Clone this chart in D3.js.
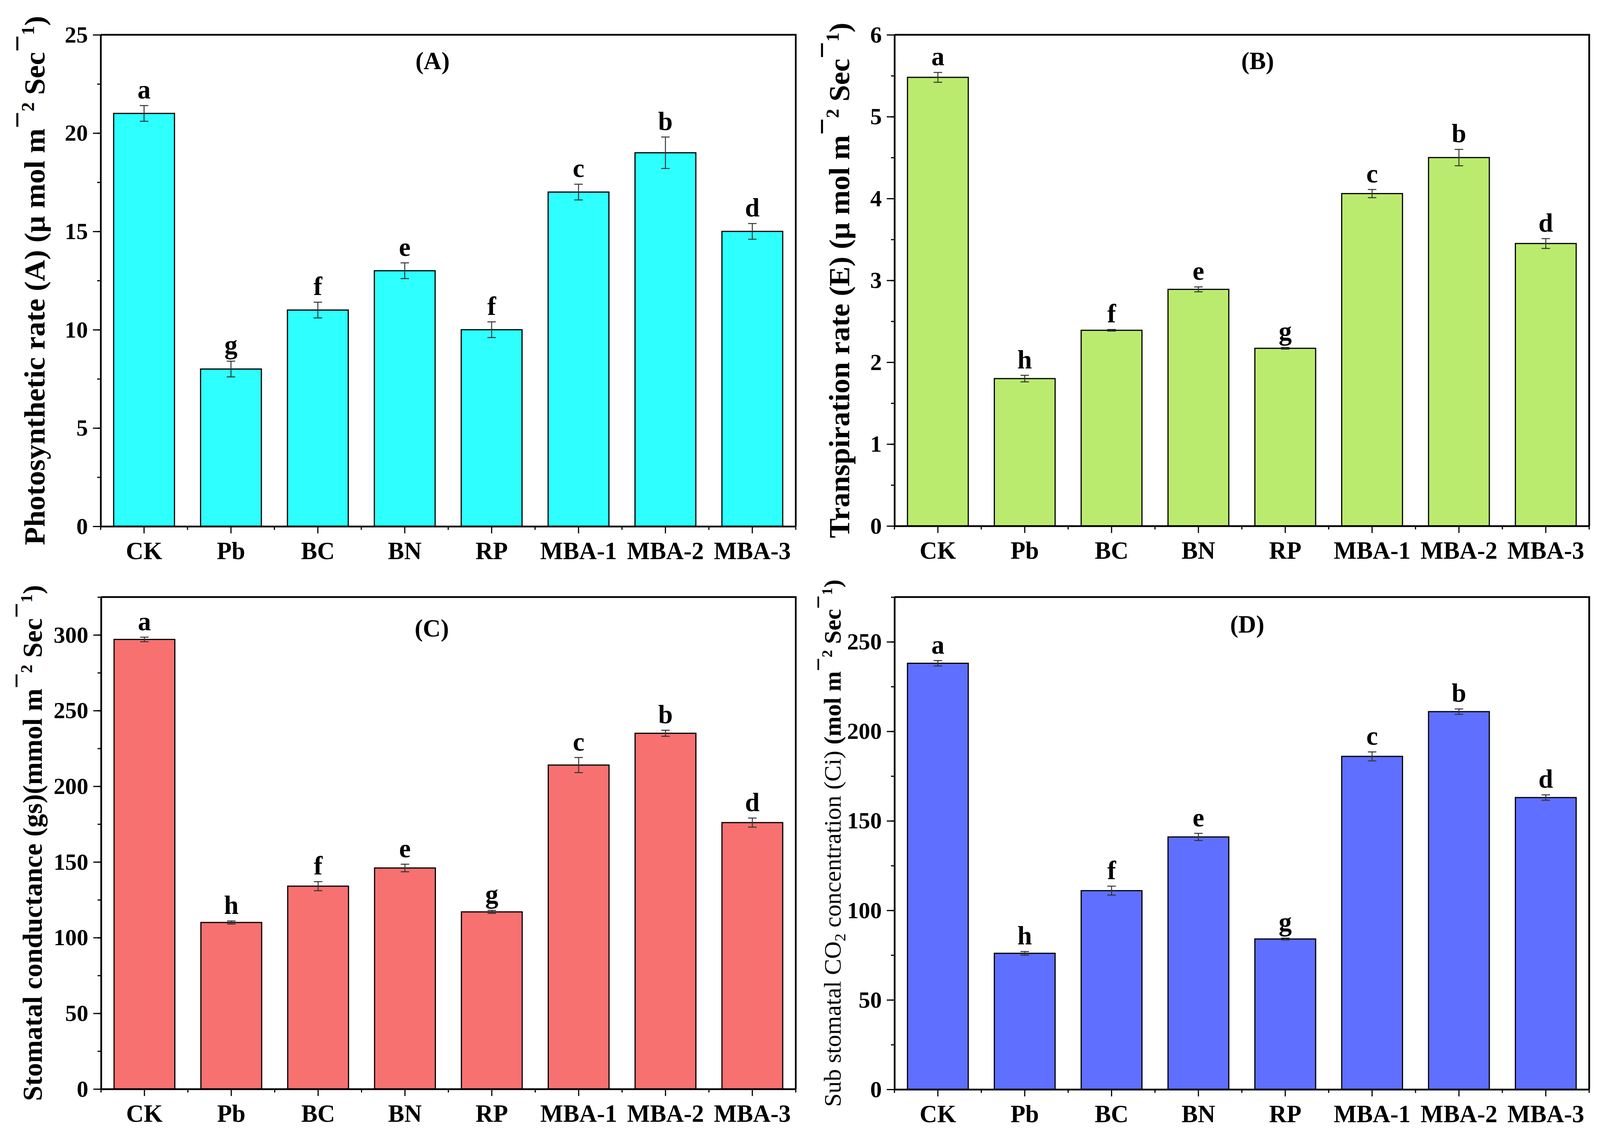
<!DOCTYPE html>
<html>
<head>
<meta charset="utf-8">
<script src="https://cdn.jsdelivr.net/npm/d3@7"></script>
<style>
html, body { margin: 0; padding: 0; background: #fff; overflow: hidden; }
svg { display: block; }
text { font-family: "Liberation Serif", "Times New Roman", serif; }
</style>
</head>
<body>
<svg></svg>
<script>
var groups = ["CK", "Pb", "BC", "BN", "RP", "MBA-1", "MBA-2", "MBA-3"];

// (A) photosynthetic rate
var photoRate = [21, 8, 11, 13, 10, 17, 19, 15];
var photoErr = [0.4, 0.4, 0.4, 0.4, 0.4, 0.4, 0.8, 0.4];
var photoLetters = ["a", "g", "f", "e", "f", "c", "b", "d"];
var photoTicks = [0, 5, 10, 15, 20, 25];

// (B) transpiration rate
var transRate = [5.48, 1.80, 2.39, 2.89, 2.17, 4.06, 4.50, 3.45];
var transErr = [0.06, 0.04, 0.01, 0.03, 0.01, 0.05, 0.10, 0.06];
var transLetters = ["a", "h", "f", "e", "g", "c", "b", "d"];
var transTicks = [0, 1, 2, 3, 4, 5, 6];

// (C) stomatal conductance
var stomCond = [297, 110, 134, 146, 117, 214, 235, 176];
var stomErr = [1.5, 1, 3, 2.5, 1, 5, 2, 3];
var stomLetters = ["a", "h", "f", "e", "g", "c", "b", "d"];
var stomTicks = [0, 50, 100, 150, 200, 250, 300];

// (D) sub stomatal CO2 concentration
var ciConc = [238, 76, 111, 141, 84, 186, 211, 163];
var ciErr = [1.5, 1, 2.5, 2, 0.5, 2.5, 1.5, 1.5];
var ciLetters = ["a", "h", "f", "e", "g", "c", "b", "d"];
var ciTicks = [0, 50, 100, 150, 200, 250];

// the window may be narrower than the drawing, so scale the drawing to fit it
var W = 4150, H = 2915;
var svg = d3.select("svg")
    .attr("width", window.innerWidth || W)
    .attr("height", window.innerHeight || H)
    .attr("viewBox", "0 0 " + W + " " + H)
    .attr("preserveAspectRatio", "none");

var panels = [
  {tag: "(A)", vals: photoRate, errs: photoErr, letters: photoLetters, ticks: photoTicks,
   max: 25, minor: 2.5, color: "#2effff",
   left: 261, right: 2064, top: 89, bottom: 1347, tx: 1122, ty: 177, labelX: 116, labelSize: 76,
   label: [["Photosynthetic rate (A) (\u03bc mol m", 0], ["\u2212", 1], ["2", 2], [" Sec", 0], ["\u2212", 1], ["1", 2], [")", 0]]},
  {tag: "(B)", vals: transRate, errs: transErr, letters: transLetters, ticks: transTicks,
   max: 6, minor: 0.5, color: "#bbeb6e",
   left: 2320, right: 4122, top: 89, bottom: 1346, tx: 3262, ty: 177, labelX: 2203, labelSize: 76,
   label: [["Transpiration rate (E) (\u03bc mol m", 0], ["\u2212", 1], ["2", 2], [" Sec", 0], ["\u2212", 1], ["1", 2], [")", 0]]},
  {tag: "(C)", vals: stomCond, errs: stomErr, letters: stomLetters, ticks: stomTicks,
   max: 325, minor: 25, color: "#f87171",
   left: 262, right: 2064, top: 1528, bottom: 2787, tx: 1120, ty: 1629, labelX: 108, labelSize: 70,
   label: [["Stomatal conductance (gs)(mmol m", 0], ["\u2212", 1], ["2", 2], [" Sec", 0], ["\u2212", 1], ["1", 2], [")", 0]]},
  {tag: "(D)", vals: ciConc, errs: ciErr, letters: ciLetters, ticks: ciTicks,
   max: 275, minor: 25, color: "#5f6fff",
   left: 2320, right: 4122, top: 1528, bottom: 2788, tx: 3235, ty: 1619, labelX: 2180, labelSize: 62,
   label: [["Sub stomatal CO", 3], ["2", 4], [" concentration (Ci) ", 3], ["(mol m", 0], ["\u2212", 1], ["2", 2], [" Sec", 0], ["\u2212", 1], ["1", 2], [")", 0]]}
];

panels.forEach(function(p) {
  var x = d3.scaleBand()
      .domain(groups)
      .range([p.left, p.right])
      .paddingInner(0.3)
      .paddingOuter(0.15);
  var y = d3.scaleLinear()
      .domain([0, p.max])
      .range([p.bottom, p.top]);

  var g = svg.append("g");

  // bars
  g.append("g").selectAll("rect")
    .data(p.vals)
    .enter().append("rect")
      .attr("x", function(d, i) { return x(groups[i]); })
      .attr("y", function(d) { return y(d); })
      .attr("width", x.bandwidth())
      .attr("height", function(d) { return y(0) - y(d); })
      .attr("fill", p.color)
      .attr("stroke", "#000")
      .attr("stroke-width", 3);

  // error bars
  var eb = g.append("g").attr("stroke", "#333").attr("stroke-width", 2.5);
  p.vals.forEach(function(v, i) {
    var cx = x(groups[i]) + x.bandwidth() / 2, e = p.errs[i];
    eb.append("line").attr("x1", cx).attr("x2", cx).attr("y1", y(v - e)).attr("y2", y(v + e));
    eb.append("line").attr("x1", cx - 11).attr("x2", cx + 11).attr("y1", y(v - e)).attr("y2", y(v - e));
    eb.append("line").attr("x1", cx - 11).attr("x2", cx + 11).attr("y1", y(v + e)).attr("y2", y(v + e));
  });

  // significance letters
  g.append("g").selectAll("text")
    .data(p.letters)
    .enter().append("text")
      .attr("x", function(d, i) { return x(groups[i]) + x.bandwidth() / 2; })
      .attr("y", function(d, i) { return y(p.vals[i] + p.errs[i]) - 18; })
      .attr("text-anchor", "middle")
      .attr("font-size", 68)
      .attr("font-weight", "bold")
      .text(function(d) { return d; });

  // minor y ticks
  var minorVals = d3.range(0, p.max + 1e-9, p.minor);
  g.append("g")
      .attr("transform", "translate(" + p.left + ",0)")
      .call(d3.axisLeft(y).tickValues(minorVals).tickSize(9).tickFormat(""))
      .call(function(a) { a.select(".domain").remove(); a.selectAll("line").attr("stroke-width", 3); });

  // major y axis
  g.append("g")
      .attr("transform", "translate(" + p.left + ",0)")
      .call(d3.axisLeft(y).tickValues(p.ticks).tickFormat(function(d) { return d; })
        .tickSize(20).tickSizeOuter(0).tickPadding(13))
      .call(function(a) {
        a.select(".domain").attr("stroke-width", 4.5);
        a.selectAll("line").attr("stroke-width", 3);
        a.selectAll("text").attr("font-size", 60).attr("font-weight", "bold")
          .attr("font-family", "Liberation Serif, Times New Roman, serif");
      });

  // minor x ticks at category boundaries
  var bounds = groups.map(function(d) { return x(d) - x.step() * x.paddingInner() / 2; });
  bounds.push(bounds[bounds.length - 1] + x.step());
  g.append("g").selectAll("line")
    .data(bounds)
    .enter().append("line")
      .attr("x1", function(d) { return d; }).attr("x2", function(d) { return d; })
      .attr("y1", p.bottom).attr("y2", p.bottom + 9)
      .attr("stroke", "#000").attr("stroke-width", 3);

  // x axis
  g.append("g")
      .attr("transform", "translate(0," + p.bottom + ")")
      .call(d3.axisBottom(x).tickSize(18).tickSizeOuter(0).tickPadding(21))
      .call(function(a) {
        a.select(".domain").attr("stroke-width", 4.5);
        a.selectAll("line").attr("stroke-width", 3);
        a.selectAll("text").attr("font-size", 63).attr("font-weight", "bold")
          .attr("font-family", "Liberation Serif, Times New Roman, serif");
      });

  // frame top and right
  g.append("path")
      .attr("d", "M" + p.left + "," + p.top + "H" + p.right + "V" + p.bottom)
      .attr("fill", "none")
      .attr("stroke", "#000")
      .attr("stroke-width", 4.5);

  // panel tag
  g.append("text")
      .attr("x", p.tx)
      .attr("y", p.ty)
      .attr("text-anchor", "middle")
      .attr("font-size", 64)
      .attr("font-weight", "bold")
      .text(p.tag);

  // y label
  var fs = p.labelSize;
  var lab = g.append("text")
      .attr("transform", "translate(" + p.labelX + "," + ((p.top + p.bottom) / 2) + ") rotate(-90)")
      .attr("text-anchor", "middle")
      .attr("font-size", fs)
      .attr("font-weight", "bold");
  var shift = 0;
  p.label.forEach(function(part) {
    var t = lab.append("tspan").text(part[0]);
    var target = 0;
    if (part[1] === 1) target = -0.6 * fs;
    if (part[1] === 2) { target = -0.36 * fs; t.attr("font-size", fs * 0.62); }
    if (part[1] === 3) t.attr("font-weight", "normal");
    if (part[1] === 4) { target = 0.2 * fs; t.attr("font-size", fs * 0.65).attr("font-weight", "normal"); }
    t.attr("dy", target - shift);
    shift = target;
  });
});
</script>
</body>
</html>
